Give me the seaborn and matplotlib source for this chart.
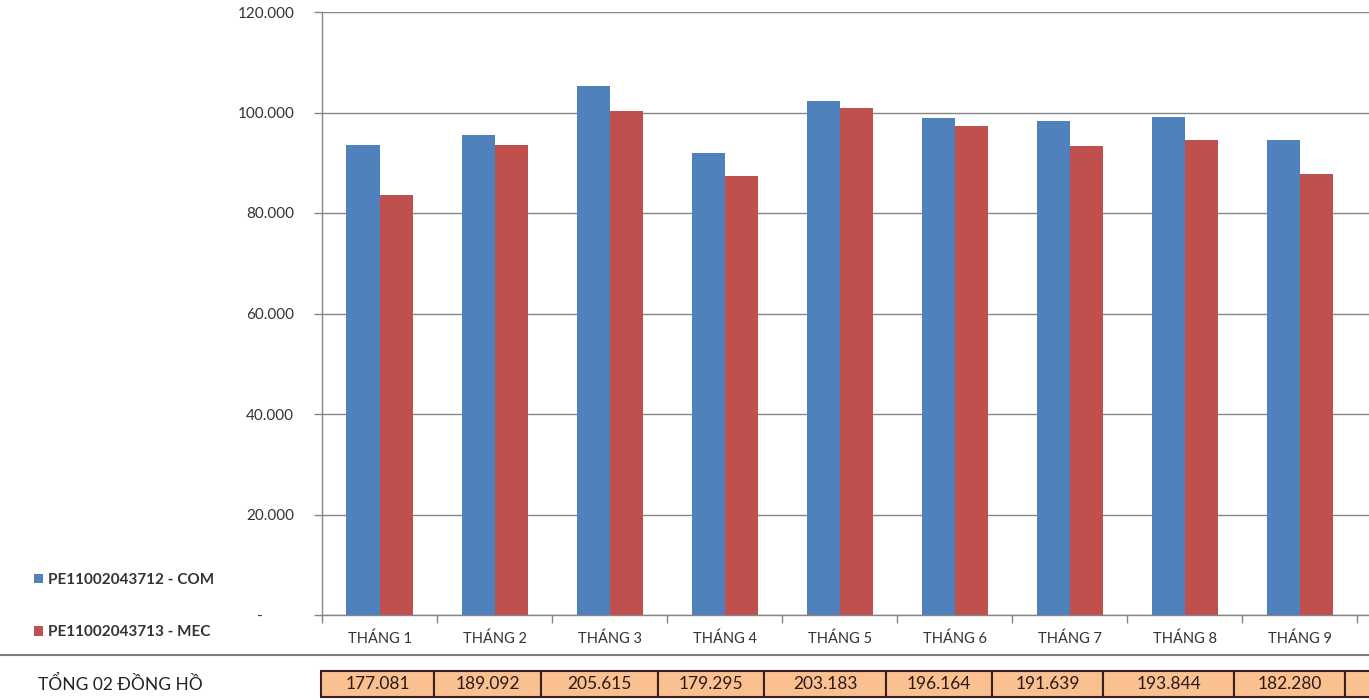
import pandas as pd
import numpy as np
import matplotlib.pyplot as plt
import seaborn as sns
from matplotlib.patches import Rectangle
from matplotlib.lines import Line2D
from matplotlib.ticker import FuncFormatter, MultipleLocator

# ==========================================
# Data
# ==========================================
months = ["THÁNG 1", "THÁNG 2", "THÁNG 3", "THÁNG 4", "THÁNG 5",
          "THÁNG 6", "THÁNG 7", "THÁNG 8", "THÁNG 9"]
series_names = ["PE11002043712 - COM", "PE11002043713 - MEC"]
com_values = [93500, 95500, 105300, 92000, 102300, 98900, 98300, 99200, 94600]
mec_values = [83600, 93600, 100300, 87300, 100900, 97300, 93300, 94600, 87700]
totals = [177081, 189092, 205615, 179295, 203183, 196164, 191639, 193844, 182280]
total_label = "TỔNG 02 ĐỒNG HỒ"

df = pd.DataFrame({
    "month": months * 2,
    "series": [series_names[0]] * len(months) + [series_names[1]] * len(months),
    "value": com_values + mec_values,
})

# ==========================================
# Style
# ==========================================
sns.set_theme(style="white")
plt.rcParams['font.family'] = ['Lato', 'Open Sans', 'DejaVu Sans']
grid_col = "#868686"
text_col = "#333333"

W, H = 1369, 700
fig = plt.figure(figsize=(W / 100, H / 100), dpi=100)
ax = fig.add_axes([322 / W, (H - 615) / H, (W - 322) / W, (615 - 12) / H])

sns.barplot(data=df, x="month", y="value", hue="series", ax=ax,
            palette=["#4F81BD", "#C0504D"], width=0.575, saturation=1,
            edgecolor="none", linewidth=0)

ax.set_xlim(-0.5, 8.6)
ax.set_ylim(0, 120000)
ax.yaxis.set_major_locator(MultipleLocator(20000))
ax.yaxis.set_major_formatter(FuncFormatter(
    lambda v, p: "-        " if v == 0 else f"{int(v):,}".replace(",", ".")))
ax.grid(axis="y", color=grid_col, linewidth=1)
ax.set_axisbelow(True)
ax.set_xlabel("")
ax.set_ylabel("")

for s in ["top", "right"]:
    ax.spines[s].set_visible(False)
for s in ["left", "bottom"]:
    ax.spines[s].set_color(grid_col)
    ax.spines[s].set_linewidth(1)

ax.tick_params(axis="y", left=True, length=6, width=1, color=grid_col,
               direction="out", pad=14, labelsize=11, labelcolor=text_col)
ax.tick_params(axis="x", bottom=True, length=0, pad=12,
               labelsize=10.5, labelcolor=text_col)
ax.set_xticks(np.arange(-0.5, 9, 1), minor=True)
ax.tick_params(axis="x", which="minor", bottom=True, length=6, width=1,
               color=grid_col, direction="out")

# Legend at the bottom left of the figure
handles, labels = ax.get_legend_handles_labels()
ax.get_legend().remove()
fig.legend(handles, labels, loc="upper left",
           bbox_to_anchor=(34 / W, (H - 573) / H), frameon=False,
           handlelength=0.6, handleheight=0.6, handletextpad=0.3,
           labelspacing=2.5, borderpad=0, borderaxespad=0,
           prop={"weight": "bold", "size": 11})
for t in fig.legends[0].get_texts():
    t.set_color(text_col)

# Separator line
fig.add_artist(Line2D([0, 1], [(H - 655) / H] * 2, color="#7f7f7f",
                      linewidth=1.5, transform=fig.transFigure))

# Totals row (spreadsheet cells)
fig.text(120 / W, (H - 684) / H, total_label, ha="center", va="center",
         fontsize=12.5, color="#222222")
cell_edges = [321, 434, 541, 658, 764, 886, 992, 1103, 1234, 1345, 1380]
y0, y1 = (H - 697) / H, (H - 671) / H
for i in range(len(cell_edges) - 1):
    x0, x1 = cell_edges[i] / W, cell_edges[i + 1] / W
    fig.add_artist(Rectangle((x0, y0), x1 - x0, y1 - y0, transform=fig.transFigure,
                             facecolor="#FAC090", edgecolor="#3b1f1f", linewidth=1.5))
    if i < len(totals):
        fig.text((x0 + x1) / 2, (y0 + y1) / 2, f"{totals[i]:,}".replace(",", "."),
                 ha="center", va="center", fontsize=12.5, color="#2a1a1a")

fig.savefig("out.png", dpi=100)
